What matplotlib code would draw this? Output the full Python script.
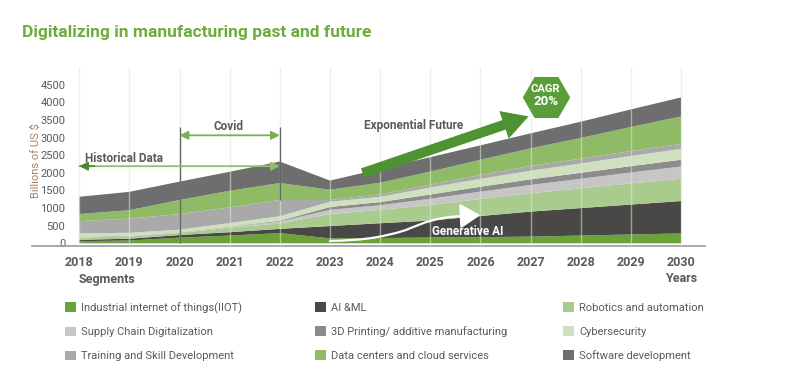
import matplotlib
matplotlib.use('Agg')
import matplotlib.pyplot as plt
from matplotlib.patches import Patch, FancyArrowPatch
from matplotlib.path import Path
import numpy as np

years = [2018, 2019, 2020, 2021, 2022, 2023, 2024, 2025, 2026, 2027, 2028, 2029, 2030]

# billions of US $, bottom layer first
iiot      = [60, 80, 160, 220, 290, 140, 150, 165, 175, 190, 220, 250, 280]
ai_ml     = [40, 50, 75, 95, 120, 350, 420, 480, 600, 710, 780, 850, 920]
robotics  = [60, 60, 60, 130, 150, 340, 380, 440, 480, 520, 560, 600, 630]
supply    = [20, 10, 10, 20, 60, 120, 130, 180, 210, 235, 270, 310, 350]
printing  = [10, 10, 5, 10, 20, 80, 90, 120, 140, 160, 170, 180, 190]
cyber     = [90, 90, 75, 100, 130, 150, 150, 200, 225, 245, 265, 290, 310]
training  = [350, 400, 445, 445, 460, 50, 70, 80, 110, 135, 135, 140, 140]
data_ctr  = [200, 240, 400, 470, 480, 290, 330, 370, 430, 500, 590, 680, 780]
software  = [490, 520, 520, 540, 610, 260, 390, 410, 410, 425, 460, 500, 540]

segments = ['Industrial internet of things(IIOT)', 'AI &ML', 'Robotics and automation',
            'Supply Chain Digitalization', '3D Printing/ additive manufacturing', 'Cybersecurity',
            'Training and Skill Development', 'Data centers and cloud services', 'Software development']
colors = ['#6aa33a', '#4a4847', '#a9cc8e', '#c6c6c6', '#8c8c8c', '#cfe0bf', '#a9a9a9', '#8fbb66', '#6e6e6e']

y_ticks = [0, 500, 1000, 1500, 2000, 2500, 3000, 3500, 4000, 4500]

plt.rcParams['font.family'] = ['Roboto', 'DejaVu Sans']
grey_txt = '#5a5a5a'

fig = plt.figure(figsize=(7.91, 3.90), dpi=100)
ax = fig.add_axes([0.0405, 0.368, 0.851, 0.46])

layers = [iiot, ai_ml, robotics, supply, printing, cyber, training, data_ctr, software]
ax.stackplot(years, *layers, colors=colors, labels=segments, linewidth=0, zorder=2)

ax.vlines(years, -90, 5000, color='#dfe9d3', lw=1, alpha=0.55, zorder=3)

ax.set_xlim(2017.06, 2030.48)
ax.set_ylim(-90, 5000)
ax.set_xticks(years)
ax.set_xticklabels([str(y) for y in years], fontsize=9, fontweight='bold', color=grey_txt)
ax.set_yticks(y_ticks)
ax.set_yticklabels([str(t) for t in y_ticks], fontsize=8, color=grey_txt)
ax.tick_params(axis='x', length=0, pad=7)
ax.tick_params(axis='y', length=0, pad=-24)
for s in ['top', 'right', 'left']:
    ax.spines[s].set_visible(False)
ax.spines['bottom'].set_color('#9a9a9a')
ax.spines['bottom'].set_linewidth(1.2)
ax.set_ylabel('Billions of US $', fontsize=8, color='#a58062')
ax.yaxis.set_label_coords(0.014, 0.48)

fig.text(79 / 791, 1 - 279 / 390, 'Segments', fontsize=9, fontweight='bold', color=grey_txt,
         ha='left', va='center')
fig.text(681 / 791, 1 - 279 / 390, 'Years', fontsize=9, fontweight='bold', color=grey_txt,
         ha='center', va='center')
fig.text(22 / 791, 1 - 32 / 390, 'Digitalizing in manufacturing past and future', fontsize=12.5,
         fontweight='bold', color='#6fab3d', ha='left', va='center')

# covid markers
ax.vlines(2020, 0, 3300, color='#666666', lw=1, zorder=4)
ax.vlines(2022, 1230, 3300, color='#666666', lw=1, zorder=4)
ax.annotate('', xy=(2022, 3064), xytext=(2020, 3064),
            arrowprops=dict(arrowstyle='<|-|>,head_length=0.5,head_width=0.25', color='#78b152',
                            lw=1.3, shrinkA=0, shrinkB=0), zorder=5)
ax.text(2020.97, 3300, 'Covid', fontsize=8.5, fontweight='bold', color=grey_txt, ha='center', va='center')

ax.annotate('', xy=(2022, 2188), xytext=(2018, 2188),
            arrowprops=dict(arrowstyle='-|>,head_length=0.5,head_width=0.25', color='#8fc06f',
                            lw=1.3, shrinkA=0, shrinkB=0), zorder=5)
ax.annotate('', xy=(2018, 2188), xytext=(2018.3, 2188),
            arrowprops=dict(arrowstyle='-|>,head_length=0.5,head_width=0.25', color='#4a8a2e',
                            lw=1.3, shrinkA=0, shrinkB=0), zorder=5)
ax.text(2018.9, 2410, 'Historical Data', fontsize=8.5, fontweight='bold', color=grey_txt,
        ha='center', va='center')

# exponential future arrow
ax.annotate('', xy=(2026.96, 3600), xytext=(2023.65, 1990),
            arrowprops=dict(arrowstyle='simple,head_length=0.85,head_width=0.95,tail_width=0.33',
                            fc='#4d9334', ec='none', mutation_scale=22, shrinkA=0, shrinkB=0), zorder=6)
ax.text(2024.67, 3350, 'Exponential Future', fontsize=8.5, fontweight='bold', color=grey_txt,
        ha='center', va='center')

# CAGR badge
ax.plot([2027.3], [4140], marker='H', markersize=33, color='#5a9e3a', clip_on=False, zorder=6)
ax.text(2027.3, 4390, 'CAGR', fontsize=8, fontweight='bold', color='white', ha='center',
        va='center', zorder=7)
ax.text(2027.3, 4020, '20%', fontsize=9.5, fontweight='bold', color='white', ha='center',
        va='center', zorder=7)

# generative AI curve
verts = [(2023.0, 70), (2023.6, 80), (2024.0, 150), (2024.5, 370),
         (2024.9, 600), (2025.1, 740), (2025.7, 780), (2026.0, 800)]
codes = [Path.MOVETO, Path.CURVE4, Path.CURVE4, Path.CURVE4,
         Path.CURVE4, Path.CURVE4, Path.CURVE4, Path.LINETO]
gen_ai = FancyArrowPatch(path=Path(verts, codes), arrowstyle='-|>,head_length=0.9,head_width=0.55',
                         mutation_scale=14, color='white', lw=1.6, zorder=6)
ax.add_patch(gen_ai)
ax.text(2025.75, 340, 'Generative AI', fontsize=8.5, fontweight='bold', color='white',
        ha='center', va='center', zorder=7)

# legend in three columns
col_x = [65, 315, 563]
for c in range(3):
    idx = [c, c + 3, c + 6]
    handles = [Patch(facecolor=colors[i], edgecolor='none') for i in idx]
    fig.legend(handles, [segments[i] for i in idx], loc='upper left',
               bbox_to_anchor=(col_x[c] / 791, 1 - 302 / 390), frameon=False, fontsize=8,
               labelcolor=grey_txt, handlelength=0.95, handleheight=0.95, handletextpad=0.5,
               labelspacing=1.2, borderpad=0, borderaxespad=0)

fig.savefig('out.png', dpi=100, facecolor='white')
